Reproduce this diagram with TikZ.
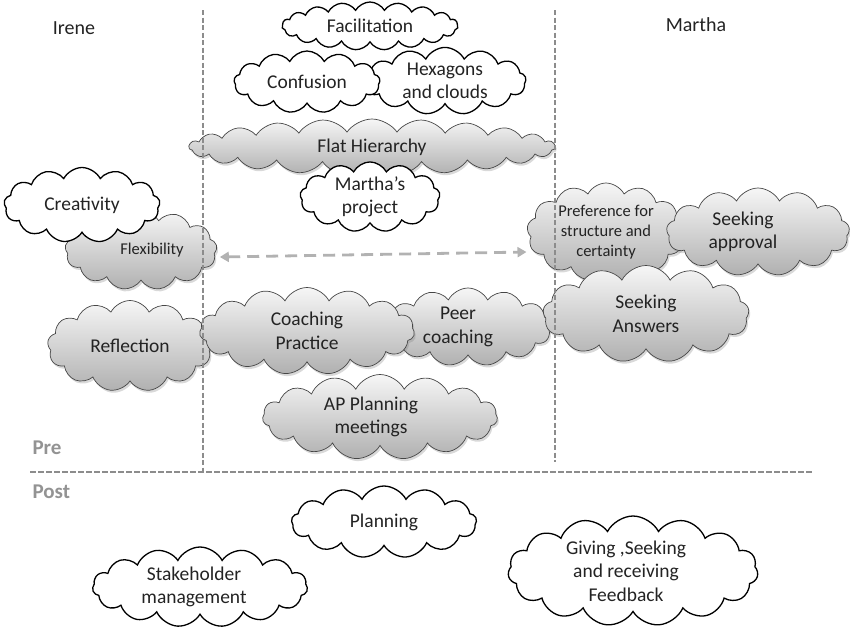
\documentclass[tikz,border=0pt]{standalone}
\usepackage{fontspec}
\setmainfont{Carlito}
\usepackage{tikz}
\usetikzlibrary{positioning,shapes.symbols,shadows,arrows.meta}

\definecolor{inkgrey}{RGB}{35,35,35}
\definecolor{linegrey}{RGB}{140,140,140}

\begin{document}
\begin{tikzpicture}[x=1pt, y=-1pt,
        idea/.style={cloud, cloud puffs=13, cloud puff arc=125, cloud ignores aspect, draw=black, line width=1.3pt, fill=white, text=inkgrey, align=center, inner sep=0pt, font=\fontsize{19.5}{23.5}\selectfont},
        shadedidea/.style={idea, draw=gray!55!black, line width=0.7pt, top color=gray!7, bottom color=gray!62, drop shadow={opacity=0.3, shadow xshift=1.5pt, shadow yshift=-2.5pt}},
        smalltext/.style={font=\fontsize{16.5}{20}\selectfont},
        heading/.style={text=inkgrey, font=\fontsize{20}{24}\selectfont},
        phase/.style={text=gray!85, font=\bfseries\fontsize{21}{24}\selectfont},
        divider/.style={linegrey, line width=1.4pt, dash pattern=on 5pt off 2.5pt}]
        \useasboundingbox (0,0) rectangle (850,630);

        % columns
        \node[heading] (irene) at (74,28) {Irene};
        \node[heading] (martha) at (696,25) {Martha};

        % centre column
        \node[shadedidea, minimum width=366, minimum height=56, cloud puffs=23, cloud puff arc=110] (flathierarchy) at (372,147) {Flat Hierarchy};
        \node[idea, minimum width=176, minimum height=48, cloud puffs=19, cloud puff arc=120] (facilitation) at (370,26) {Facilitation};
        \node[idea, minimum width=162, minimum height=67] (hexagons) at (445,81) {Hexagons\\and clouds};
        \node[idea, minimum width=146, minimum height=62] (confusion) at (307,82) {Confusion};
        \node[idea, minimum width=140, minimum height=64] (marthasproject) at (370,197) {Martha's\\project};

        % left column
        \node[shadedidea, smalltext, minimum width=152, minimum height=80] (flexibility) at (141,250) {\hspace*{22pt}Flexibility};
        \node[idea, minimum width=156, minimum height=75] (creativity) at (82,205) {Creativity};
        \node[shadedidea, minimum width=165, minimum height=91] (reflection) at (130,346) {Reflection};

        % right column
        \node[shadedidea, smalltext, minimum width=158, minimum height=98] (preference) at (606,232) {Preference for\\structure and\\certainty};
        \node[shadedidea, minimum width=183, minimum height=88] (seekingapproval) at (758,232) {\hspace*{-30pt}Seeking\\\hspace*{-30pt}approval};
        \node[shadedidea, minimum width=167, minimum height=78] (peercoaching) at (468,327) {\hspace*{-20pt}Peer\\\hspace*{-20pt}coaching};
        \node[shadedidea, minimum width=215, minimum height=87, cloud puffs=15] (coachingpractice) at (307,331) {Coaching\\Practice};
        \node[shadedidea, minimum width=206, minimum height=97] (seekinganswers) at (646,314) {Seeking\\Answers};
        \node[shadedidea, minimum width=235, minimum height=85, cloud puffs=15] (apmeetings) at (380,417) {\hspace*{-18pt}AP Planning\\\hspace*{-18pt}meetings};

        % post
        \node[idea, minimum width=185, minimum height=72] (planning) at (384,522) {Planning};
        \node[idea, minimum width=215, minimum height=80, cloud puffs=15] (stakeholder) at (200,587) {\hspace*{-12pt}Stakeholder\\\hspace*{-12pt}management};
        \node[idea, minimum width=250, minimum height=110, cloud puffs=15] (feedback) at (633,571) {\hspace*{-14pt}Giving ,Seeking\\\hspace*{-14pt}and receiving\\\hspace*{-14pt}Feedback};

        \node[phase] (pre) at (47,448) {Pre};
        \node[phase, below=23pt of pre.south west, anchor=north west] (post) {Post};

        % dividers
        \coordinate (lefttop) at (203,10);
        \coordinate (righttop) at (555,10);
        \coordinate (rulestart) at (30,472);
        \coordinate (ruleend) at (813,472);
        \draw[divider] (lefttop) -- (lefttop |- rulestart);
        \draw[divider] (righttop) -- (555,462);
        \draw[divider, line width=2.6pt, dash pattern=on 6pt off 2pt] (rulestart) -- (ruleend);

        \draw[{Triangle[length=9pt,width=10pt]}-{Triangle[length=9pt,width=10pt]}, gray!60, line width=2.8pt, dash pattern=on 12pt off 7pt]
            ([xshift=3pt,yshift=-7pt]flexibility.east) -- ([xshift=-1pt,yshift=-20pt]preference.west);
\end{tikzpicture}
\end{document}
